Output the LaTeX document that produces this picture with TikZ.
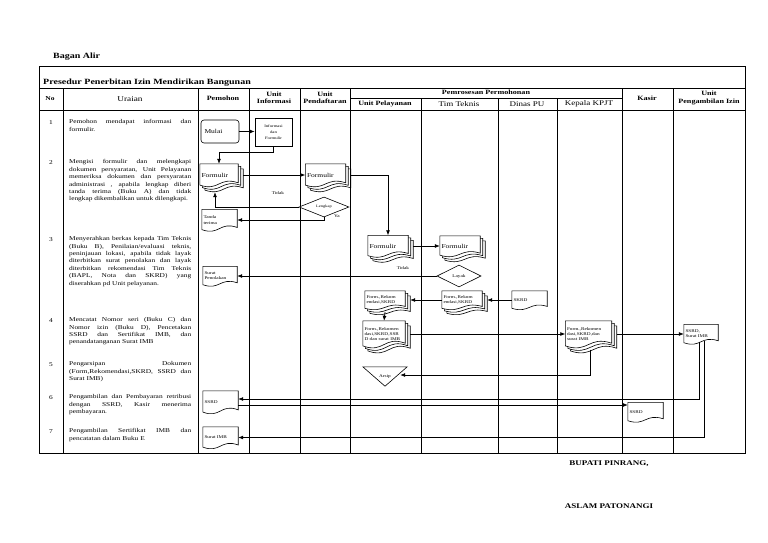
\documentclass[tikz,border=0pt]{standalone}
\usepackage{fontspec}
\setmainfont[FakeStretch=1.25]{Liberation Serif}
\usetikzlibrary{calc,positioning,shapes.geometric,arrows.meta}
\tikzset{>={Latex[length=5pt,width=4pt]}}
\pgfdeclarelayer{docs}
\pgfsetlayers{docs,main}

\tikzset{
  tabline/.style={line width=0.9pt},
  flow/.style={->, line width=0.75pt},
  docline/.style={draw, fill=white, line width=0.6pt},
  hd/.style={font=\fontsize{6.5}{7.5}\selectfont\bfseries, align=center, inner sep=0pt},
  hdbig/.style={font=\fontsize{7.2}{8}\selectfont, inner sep=0pt},
  uraian/.style={font=\fontsize{5.9}{7.4}\selectfont, text width=122pt,
    align=justify, anchor=north west, inner sep=0pt},
  nomor/.style={font=\fontsize{5.9}{7}\selectfont, inner sep=0pt},
  docbox/.style 2 args={text width=#1, minimum height=#2, inner sep=1.5pt,
    align=left, font=\fontsize{4.2}{5.2}\selectfont},
  bigtxt/.style={font=\fontsize{6}{7}\selectfont},
  lbl/.style={font=\fontsize{4.2}{5}\selectfont, inner sep=0pt},
  decision/.style={diamond, draw, fill=white, line width=0.6pt, inner sep=0pt,
    font=\fontsize{3.6}{4}\selectfont},
  ttd/.style={font=\fontsize{7.2}{8}\selectfont\bfseries, inner sep=0pt},
}

% dokumen: kotak dengan sisi bawah bergelombang
\newcommand\docshape[2][0pt]{%
  \begin{pgfonlayer}{docs}
    \draw[docline] let \p1=(#2.north west), \p2=(#2.south east),
      \n1={#1}, \n2={\y1-\y2} in
      ({\x1+\n1},{\y1-\n1}) -- ({\x2+\n1},{\y1-\n1})
      -- ({\x2+\n1},{\y2-\n1+0.15*\n2})
      .. controls ({0.5*\x1+0.5*\x2+\n1},{\y2-\n1+0.45*\n2})
         and ({0.5*\x1+0.5*\x2+\n1},{\y2-\n1-0.25*\n2})
      .. ({\x1+\n1},{\y2-\n1+0.05*\n2}) -- cycle;
  \end{pgfonlayer}}
% tumpukan dokumen
\newcommand\mdocshape[1]{\docshape[5pt]{#1}\docshape[2.5pt]{#1}\docshape{#1}}

\begin{document}
\begin{tikzpicture}[x=1pt,y=-1pt]
\useasboundingbox (0,0) rectangle (768,543);

% judul
\node[font=\fontsize{8}{9}\selectfont\bfseries, anchor=west, inner sep=0pt] (bagan) at (53,57) {Bagan Alir};
\node[font=\fontsize{8}{9}\selectfont\bfseries, anchor=west, inner sep=0pt] (judul) at (43,83) {Presedur Penerbitan Izin Mendirikan Bangunan};

% tabel
\draw[tabline] (39,66) rectangle (745,453);
\draw[tabline] (39,88) -- (745,88);
\draw[tabline] (39,110) -- (745,110);
\draw[tabline] (350,98) -- (622,98);
\foreach \x in {63,198,249,300,350,622,673}
  \draw[tabline] (\x,88) -- (\x,453);
\foreach \x in {421,498,557}
  \draw[tabline] (\x,98) -- (\x,453);

% kepala kolom
\node[hd, font=\fontsize{6}{7}\selectfont\bfseries] (hno) at (50,99) {No};
\node[hdbig, font=\fontsize{7.4}{8}\selectfont] (hur) at (130,99) {Uraian};
\node[hd] (hpem) at (223,98) {Pemohon};
\node[hd] (hinfo) at (274,98) {Unit\\Informasi};
\node[hd] (hdaf) at (325,98) {Unit\\Pendaftaran};
\node[hd] (hproses) at (486,92) {Pemrosesan Permohonan};
\node[hd] (hlay) at (385,104) {Unit Pelayanan};
\node[hdbig] (htim) at (459,104) {Tim Teknis};
\node[hdbig] (hpu) at (527,104) {Dinas PU};
\node[hdbig] (hkpjt) at (589,104) {Kepala KPJT};
\node[hd] (hkasir) at (647,98) {Kasir};
\node[hd] (hambil) at (709,98) {Unit\\Pengambilan Izin};

% nomor dan uraian
\foreach \n/\y in {1/123,2/163,3/240,4/321,5/365,6/398,7/432}
  \node[nomor] (no\n) at (51,\y) {\n};
\node[uraian] (ur1) at (69,119.5) {Pemohon mendapat informasi dan\linebreak formulir.};
\node[uraian] (ur2) at (69,159.5) {Mengisi formulir dan melengkapi\linebreak
  dokumen persyaratan, Unit Pelayanan\linebreak memeriksa dokumen dan persyaratan\linebreak
  administrasi , apabila lengkap diberi\linebreak tanda terima (Buku A) dan tidak\linebreak
  lengkap dikembalikan untuk dilengkapi.};
\node[uraian] (ur3) at (69,236.5) {Menyerahkan berkas kepada Tim Teknis\linebreak
  (Buku B), Penilaian/evaluasi teknis,\linebreak peninjauan lokasi, apabila tidak layak\linebreak
  diterbitkan surat penolakan dan layak\linebreak diterbitkan rekomendasi Tim Teknis\linebreak
  (BAPL, Nota dan SKRD) yang\linebreak diserahkan pd Unit pelayanan.};
\node[uraian] (ur4) at (69,317.5) {Mencatat Nomor seri (Buku C) dan\linebreak
  Nomor izin (Buku D), Pencetakan\linebreak SSRD dan Sertifikat IMB, dan\linebreak
  penandatanganan Surat IMB};
\node[uraian] (ur5) at (69,361.5) {Pengarsipan Dokumen\linebreak
  (Form,Rekomendasi,SKRD, SSRD dan\linebreak Surat IMB)};
\node[uraian] (ur6) at (69,394.5) {Pengambilan dan Pembayaran retribusi\linebreak
  dengan SSRD, Kasir menerima\linebreak pembayaran.};
\node[uraian] (ur7) at (69,428.5) {Pengambilan Sertifikat IMB dan\linebreak
  pencatatan dalam Buku E};

% simbol alur
\node[draw, fill=white, rounded corners=3pt, line width=0.6pt, docbox={35pt}{23pt}, bigtxt] (mulai) at (220,131.5) {~Mulai};
\node[draw, fill=white, line width=0.6pt, docbox={34pt}{28pt}, align=center, font=\fontsize{3.8}{6}\selectfont] (info) at (273.5,132) {Informasi\\dan\\Formulir};
\node[docbox={35pt}{22pt}, bigtxt] (formA) at (219,175) {Formulir};
\node[docbox={37pt}{22pt}, bigtxt] (formB) at (325.5,175) {Formulir};
\node[decision, minimum width=50pt, minimum height=20pt] (lengkap) at (324,207) {Lengkap};
\node[docbox={32pt}{21pt}] (tanda) at (219.5,220) {Tanda\\terima};
\node[docbox={37pt}{21pt}, bigtxt] (formC) at (388,246) {Formulir};
\node[docbox={37pt}{20pt}, bigtxt] (formD) at (460,246) {Formulir};
\node[decision, minimum width=44pt, minimum height=22pt, font=\fontsize{4.2}{5}\selectfont] (layak) at (459,276) {Layak};
\node[docbox={31pt}{19pt}] (tolak) at (220,276) {Surat\\Penolakan};
\node[docbox={37pt}{18pt}] (rekomD) at (462,300) {Form.,Rekom\\endasi,SKRD};
\node[docbox={37pt}{18pt}] (rekomC) at (385,300) {Form.,Rekom\\endasi,SKRD};
\node[docbox={32pt}{18pt}] (skrd) at (529.5,300) {SKRD};
\node[docbox={39pt}{26pt}] (allC) at (384,334) {Form.,Rekomen\\dasi,SKRD,SSR\\D dan surat IMB};
\node[docbox={43pt}{26pt}] (kepala) at (588.5,334) {Form.,Rekomen\\dasi,SKRD,dan\\surat IMB};
\node[docbox={31pt}{19pt}] (ssrdP) at (701,334) {SSRD,\\Surat IMB};
\node[docbox={41pt}{19pt}, align=center] (arsip) at (385,376.5) {Arsip};
\node[docbox={32pt}{22pt}] (ssrdA) at (220.5,402) {SSRD};
\node[docbox={32pt}{19pt}] (ssrdK) at (645.5,412) {SSRD};
\node[docbox={32pt}{21pt}] (imbA) at (220.5,437.5) {Surat IMB};

\mdocshape{formA}
\mdocshape{formB}
\docshape{tanda}
\mdocshape{formC}
\mdocshape{formD}
\docshape{tolak}
\mdocshape{rekomD}
\mdocshape{rekomC}
\docshape{skrd}
\mdocshape{allC}
\mdocshape{kepala}
\docshape{ssrdP}
\docshape{ssrdA}
\docshape{ssrdK}
\docshape{imbA}
\begin{pgfonlayer}{docs}
  \draw[docline] (arsip.north west) -- (arsip.north east) -- (arsip.south) -- cycle;
\end{pgfonlayer}

% keterangan cabang
\node[lbl] (tidakA) at (278,193) {Tidak};
\node[lbl] (yaA) at (337,216) {Ya};
\node[lbl] (tidakB) at (403,268) {Tidak};

% alur
\draw[flow] (mulai.east) -- (info.west |- mulai.east);
\draw[flow] (info.south) -- ++(0,6) -| (formA.north);
\draw[flow] ([shift={(5,0)}]formA.east) -- (formB.west);
\draw[flow] ([shift={(5,0)}]formB.east) -| (formC.north);
\draw[flow] (lengkap.west) -| ([shift={(-4,6)}]formA.south);
\draw[flow] (lengkap.south) |- (tanda.east);
\draw[flow] ([shift={(5,0)}]formC.east) -- (formD.west);
\draw[flow] (layak.west) -- (tolak.east);
\draw[flow] (skrd.west) -- ([shift={(5,0)}]rekomD.east);
\draw[flow] (rekomD.west) -- ([shift={(5,0)}]rekomC.east);
\draw[flow] ([shift={(0,3)}]rekomC.south) -- (allC.north);
\draw[flow] ([shift={(5,0)}]allC.east) -- (kepala.west);
\draw[flow] ([shift={(5,0)}]kepala.east) -- (ssrdP.west);
\draw[flow] ([shift={(1.5,2.5)}]kepala.south) |- ([shift={(-7,-1.5)}]arsip.east);
\coordinate (ssrdin) at ([shift={(0,-3)}]ssrdA.east);
\coordinate (ssrdout) at ([shift={(0,3)}]ssrdA.east);
\draw[flow] ([shift={(-2,-2)}]ssrdP.south) |- (ssrdin);
\draw[flow] ([shift={(3,-3)}]ssrdP.south) |- (imbA.east);
\draw[flow] (ssrdout) -- (ssrdout -| ssrdK.west);

% tanda tangan
\node[ttd] (bupati) at (609,464) {BUPATI PINRANG,};
\node[ttd] (nama) at (609,506) {ASLAM PATONANGI};
\end{tikzpicture}
\end{document}
